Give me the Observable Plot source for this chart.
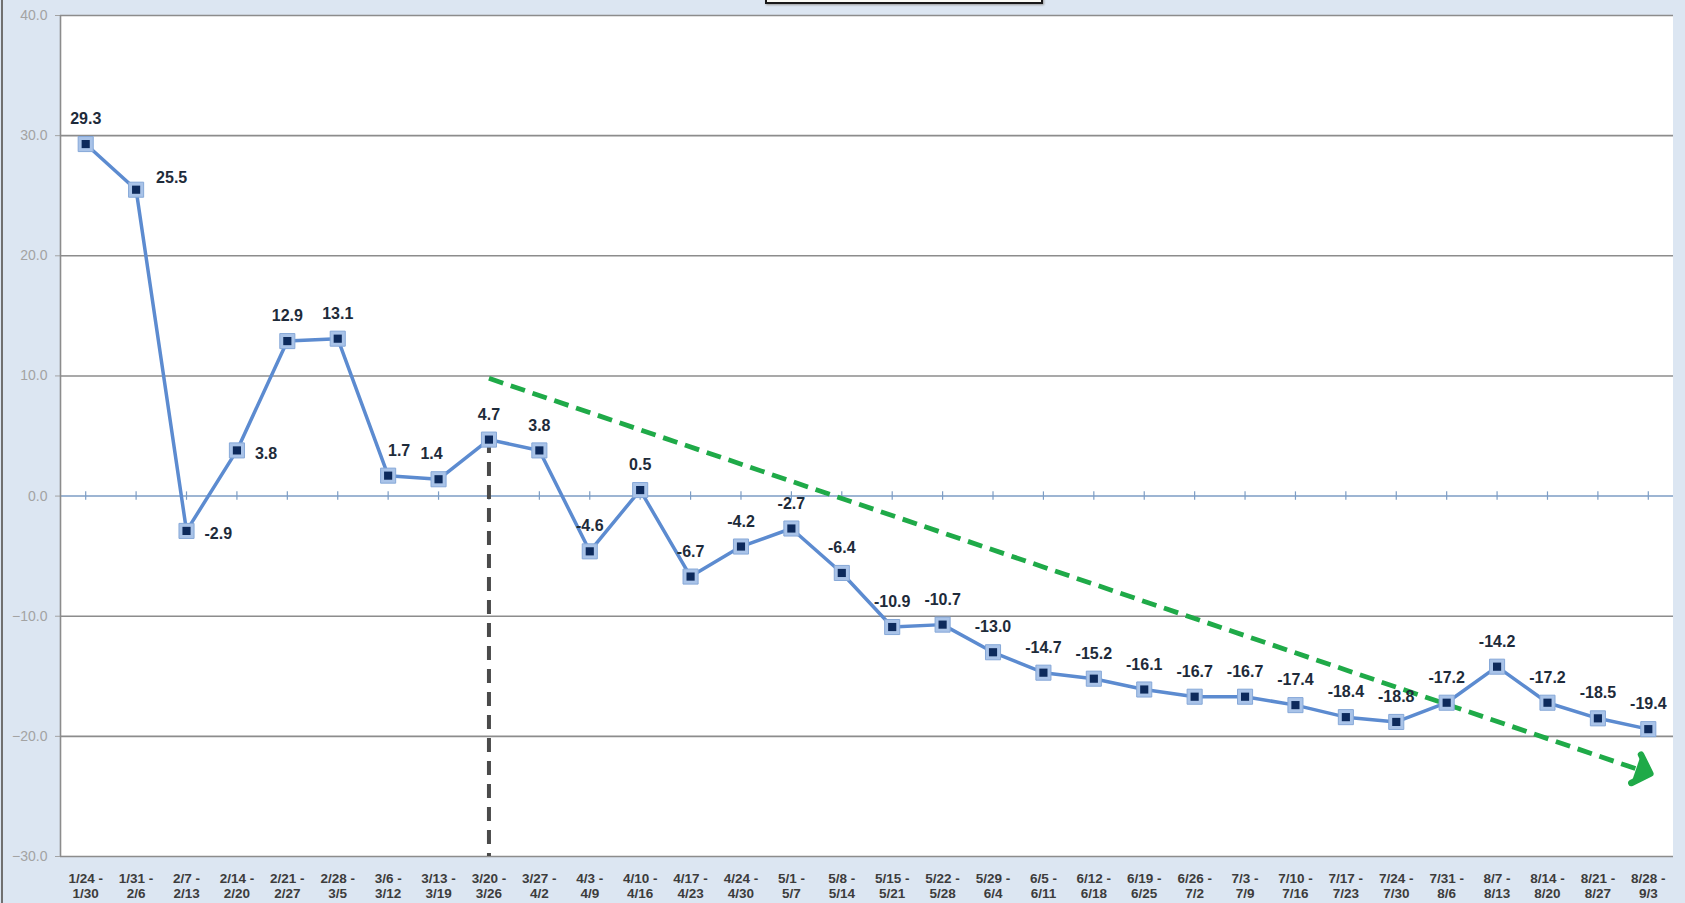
<!DOCTYPE html>
<html>
<head>
<meta charset="utf-8">
<script src="https://cdn.jsdelivr.net/npm/d3@7"></script>
<script src="https://cdn.jsdelivr.net/npm/@observablehq/plot@0.6"></script>
<style>
  html, body { margin: 0; padding: 0; background: #dce6f2; }
  #wrap { position: relative; width: 1685px; height: 903px; overflow: hidden; background: #dce6f2; }
  #edge { position: absolute; left: 1px; top: 0; width: 2px; height: 903px; background: #707070; }
  #titlebox { position: absolute; left: 765px; top: -28px; width: 274px; height: 28px; border: 2px solid #1a1a1a; background: #fbfbf6; box-shadow: 1px 1px 2px #999; }
  #chart { position: absolute; left: 0; top: 0; }
</style>
</head>
<body>
<div id="wrap">
  <div id="chart"></div>
  <div id="edge"></div>
  <div id="titlebox"></div>
</div>
<script>
// Week ranges (start / end) of each period
const weekStarts = ["1/24","1/31","2/7","2/14","2/21","2/28","3/6","3/13","3/20","3/27","4/3","4/10","4/17","4/24","5/1","5/8","5/15","5/22","5/29","6/5","6/12","6/19","6/26","7/3","7/10","7/17","7/24","7/31","8/7","8/14","8/21","8/28"];
const weekEnds   = ["1/30","2/6","2/13","2/20","2/27","3/5","3/12","3/19","3/26","4/2","4/9","4/16","4/23","4/30","5/7","5/14","5/21","5/28","6/4","6/11","6/18","6/25","7/2","7/9","7/16","7/23","7/30","8/6","8/13","8/20","8/27","9/3"];
// Series values
const values = [29.3,25.5,-2.9,3.8,12.9,13.1,1.7,1.4,4.7,3.8,-4.6,0.5,-6.7,-4.2,-2.7,-6.4,-10.9,-10.7,-13.0,-14.7,-15.2,-16.1,-16.7,-16.7,-17.4,-18.4,-18.8,-17.2,-14.2,-17.2,-18.5,-19.4];
// Label placement hint for each point: t = top, tr/tl = top shifted, r = right, ur = upper right
const labelSide = ["t","ur","r","r","t","t","tr","tl","t","t","t","t","t","t","t","t","t","t","t","t","t","t","t","t","t","t","t","t","t","t","t","t"];
// Y axis ticks
const yTicks = [-30,-20,-10,0,10,20,30,40];
// Vertical dashed marker week
const markerWeek = "3/20";
// Green trend arrow (start / end; x in week index units)
const trendX = [8, 30.9];
const trendY = [9.8, -22.9];

const data = values.map((v, i) => ({i, v, start: weekStarts[i], end: weekEnds[i], side: labelSide[i], label: v.toFixed(1)}));
const markerIdx = weekStarts.indexOf(markerWeek);
const marker = [{i: markerIdx, v: values[markerIdx]}];
const trend = [{x1: trendX[0], y1: trendY[0], x2: trendX[1], y2: trendY[1]}];

const labelFont = {fontSize: 16, fontWeight: "bold", fill: "#1e2b3a", fontFamily: "Liberation Sans, Arial, sans-serif"};
const sel = s => data.filter(d => d.side === s);

const chart = Plot.plot({
  width: 1685, height: 903,
  marginLeft: 60, marginRight: 12, marginTop: 15, marginBottom: 47,
  x: {domain: [-0.5, values.length - 0.5], axis: null},
  y: {domain: [-30, 40], ticks: yTicks, tickFormat: d3.format(".1f"), tickSize: 5, tickPadding: 8, label: null},
  style: {background: "transparent", color: "#a3a3a3", fontFamily: "Liberation Sans, Arial, sans-serif", fontSize: "14px", overflow: "visible"},
  marks: [
    Plot.rect([0], {x1: -0.5, x2: values.length - 0.5, y1: -30, y2: 40, fill: "white"}),
    Plot.ruleY(yTicks.filter(t => t !== 0), {stroke: "#8c8c8c", strokeWidth: 1.6}),
    Plot.ruleY([0], {stroke: "#7d9dc5", strokeWidth: 1.6}),
    Plot.ruleX(data, {x: "i", y1: -0.35, y2: 0.35, stroke: "#7d9dc5", strokeWidth: 1.2}),
    Plot.ruleX([-0.5], {stroke: "#8c8c8c", strokeWidth: 1.6}),
    Plot.ruleX(marker, {x: "i", y1: "v", y2: -30, stroke: "#4a4a4a", strokeWidth: 4, strokeDasharray: "14,9"}),
    Plot.link(trend, {x1: "x1", y1: "y1", x2: "x2", y2: "y2", stroke: "#1faa48", strokeWidth: 4.8, strokeDasharray: "15,8", markerEnd: "arrow"}),
    Plot.line(data, {x: "i", y: "v", stroke: "#5c8bd0", strokeWidth: 3.5}),
    Plot.dot(data, {x: "i", y: "v", symbol: "square", r: 8.5, fill: "#a9c3e8", stroke: "#86a8d8", strokeWidth: 1}),
    Plot.dot(data, {x: "i", y: "v", symbol: "square", r: 4.6, fill: "#0d2a5c"}),
    Plot.text(sel("t"), {x: "i", y: "v", text: "label", dy: -25, ...labelFont}),
    Plot.text(sel("tr"), {x: "i", y: "v", text: "label", dy: -25, dx: 11, ...labelFont}),
    Plot.text(sel("tl"), {x: "i", y: "v", text: "label", dy: -25, dx: -7, ...labelFont}),
    Plot.text(sel("r"), {x: "i", y: "v", text: "label", dx: 18, dy: 3, textAnchor: "start", ...labelFont}),
    Plot.text(sel("ur"), {x: "i", y: "v", text: "label", dx: 20, dy: -12, textAnchor: "start", ...labelFont}),
    Plot.text(data, {x: "i", text: d => d.start + " -\n" + d.end, frameAnchor: "bottom", dy: 16, lineAnchor: "top", lineHeight: 1.1,
      fontSize: 13.5, fontWeight: "bold", fill: "#3c3c3c", fontFamily: "Liberation Sans, Arial, sans-serif"})
  ]
});
// enlarge the trend arrowhead to match the reference
d3.select(chart).selectAll("marker")
  .attr("markerUnits", "userSpaceOnUse")
  .attr("markerWidth", 50).attr("markerHeight", 50)
  .attr("stroke-width", 1.3)
  .attr("fill", "#1faa48");
document.getElementById("chart").appendChild(chart);
</script>
</body>
</html>
